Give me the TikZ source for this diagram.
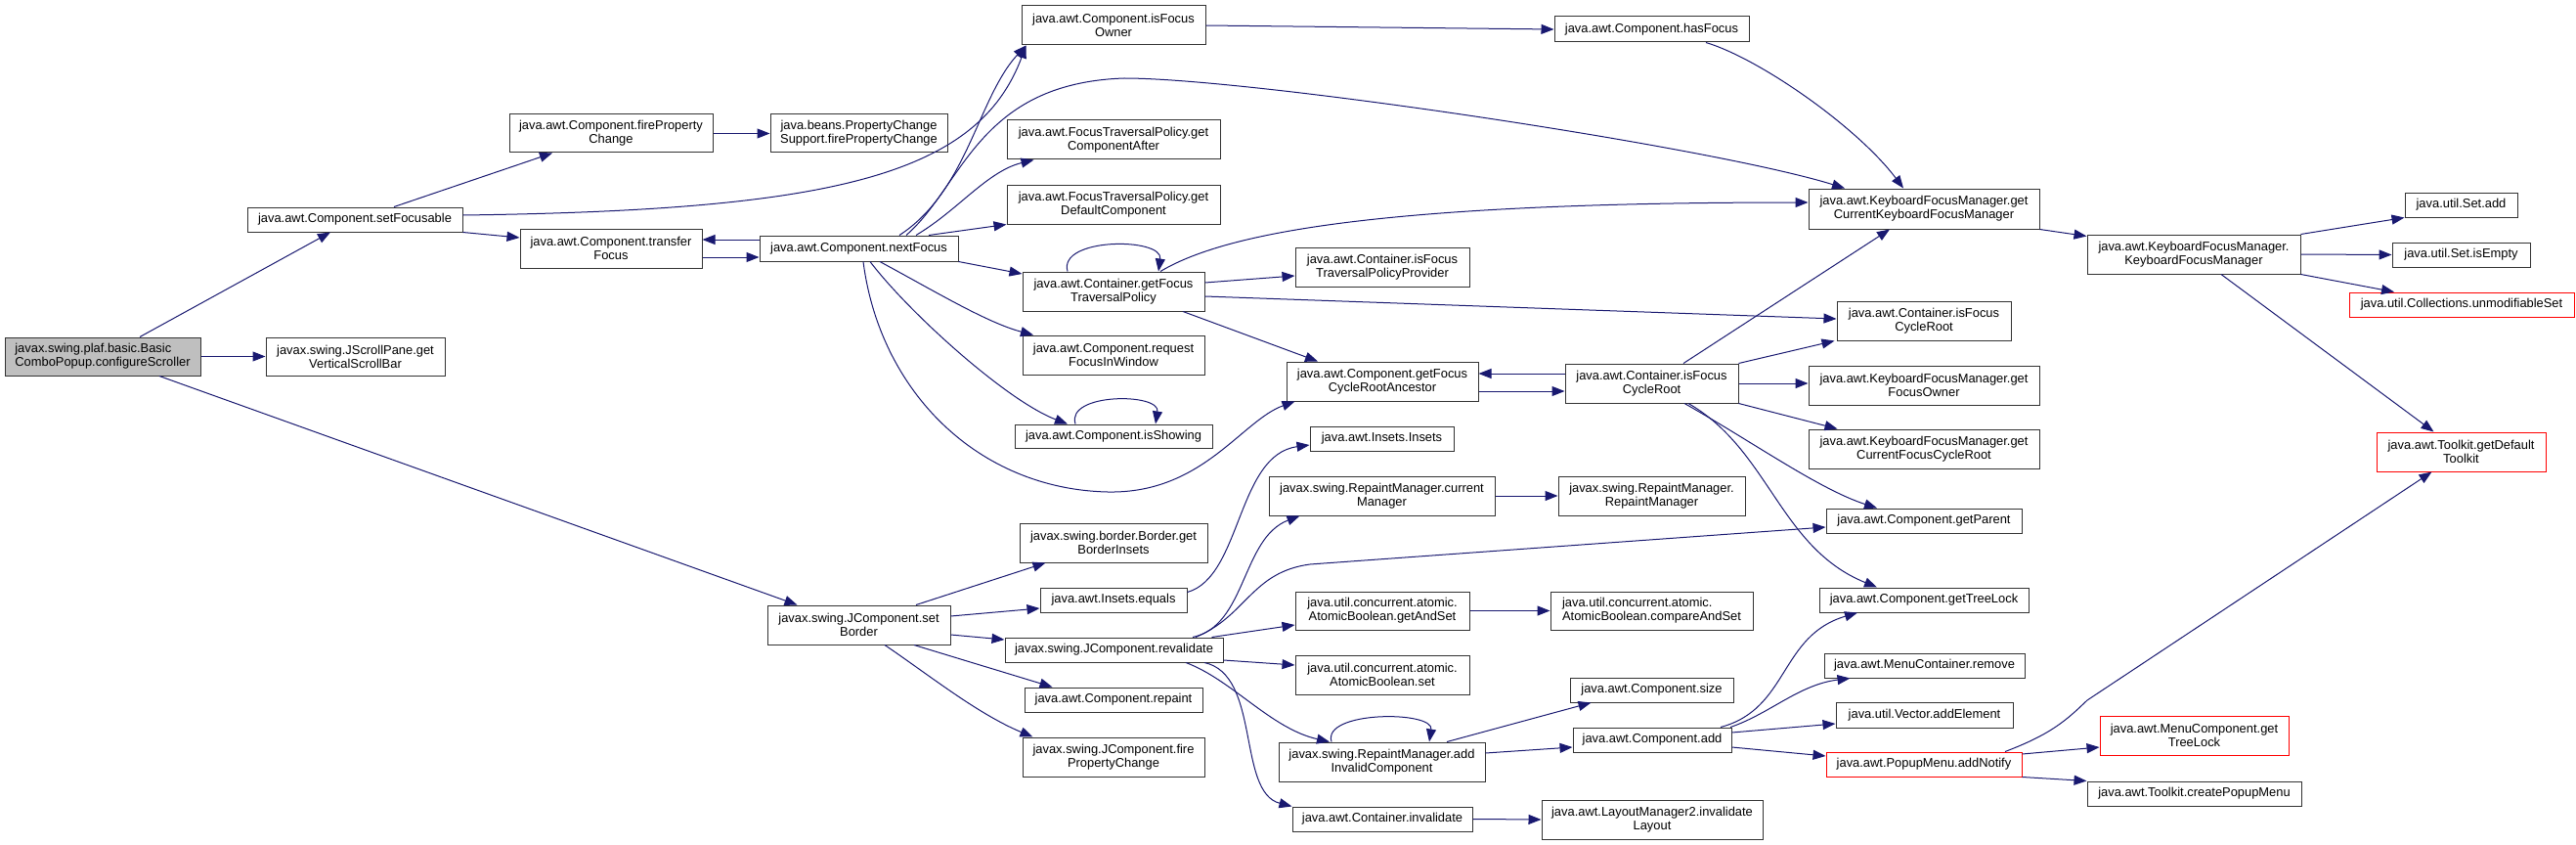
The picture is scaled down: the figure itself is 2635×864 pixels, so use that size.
\documentclass[tikz,border=0pt]{standalone}
\usepackage{fontspec}
\setmainfont{Liberation Sans}
\usepackage{xcolor}
\usetikzlibrary{arrows.meta}
\definecolor{edgeblue}{HTML}{191970}
\definecolor{rootgray}{HTML}{BFBFBF}
\tikzset{
  cbox/.style    = {rectangle, draw=black!80, fill=white, line width=1pt, align=center,
                    inner sep=0pt, font=\fontsize{12.9}{14}\selectfont},
  rootbox/.style = {cbox, fill=rootgray, align=left},
  redbox/.style  = {cbox, draw=red},
  arr/.style     = {-{Triangle[length=13pt,width=10pt]}, line width=1pt, edgeblue},
}

\begin{document}
\begin{tikzpicture}[x=1pt, y=1pt]
  \useasboundingbox (0,0) rectangle (2635,-864);

  % column 1 and 2
  \node[rootbox, minimum width=200pt, minimum height=39pt] (root) at (105,-364.5)
    {javax.swing.plaf.basic.Basic\\ComboPopup.configureScroller};
  \node[cbox, minimum width=220pt, minimum height=25pt] (setFocusable) at (363,-224.5)
    {java.awt.Component.setFocusable};
  \node[cbox, minimum width=183pt, minimum height=39pt] (vscroll) at (363.5,-364.5)
    {javax.swing.JScrollPane.get\\VerticalScrollBar};
  \node[cbox, minimum width=208pt, minimum height=39pt] (compFirePC) at (625,-136.5)
    {java.awt.Component.fireProperty\\Change};
  \node[cbox, minimum width=186pt, minimum height=40pt] (transferFocus) at (625,-254)
    {java.awt.Component.transfer\\Focus};

  % column 3
  \node[cbox, minimum width=181pt, minimum height=39pt] (pcsFirePC) at (878.5,-136.5)
    {java.beans.PropertyChange\\Support.firePropertyChange};
  \node[cbox, minimum width=203pt, minimum height=26pt] (nextFocus) at (878.5,-254)
    {java.awt.Component.nextFocus};
  \node[cbox, minimum width=187pt, minimum height=40pt] (setBorder) at (878.5,-639)
    {javax.swing.JComponent.set\\Border};

  % column 4
  \node[cbox, minimum width=188pt, minimum height=40pt] (isFocusOwner) at (1139,-26)
    {java.awt.Component.isFocus\\Owner};
  \node[cbox, minimum width=218pt, minimum height=40pt] (compAfter) at (1139,-143)
    {java.awt.FocusTraversalPolicy.get\\ComponentAfter};
  \node[cbox, minimum width=218pt, minimum height=40pt] (defComp) at (1139,-209)
    {java.awt.FocusTraversalPolicy.get\\DefaultComponent};
  \node[cbox, minimum width=186pt, minimum height=40pt] (getFTP) at (1139,-298)
    {java.awt.Container.getFocus\\TraversalPolicy};
  \node[cbox, minimum width=186pt, minimum height=40pt] (requestFocus) at (1139,-363)
    {java.awt.Component.request\\FocusInWindow};
  \node[cbox, minimum width=202pt, minimum height=24pt] (isShowing) at (1139,-446)
    {java.awt.Component.isShowing};
  \node[cbox, minimum width=192pt, minimum height=40pt] (borderInsets) at (1139,-555)
    {javax.swing.border.Border.get\\BorderInsets};
  \node[cbox, minimum width=150pt, minimum height=25pt] (insetsEquals) at (1139,-613.5)
    {java.awt.Insets.equals};
  \node[cbox, minimum width=223pt, minimum height=25pt] (revalidate) at (1139.5,-664.5)
    {javax.swing.JComponent.revalidate};
  \node[cbox, minimum width=182pt, minimum height=25pt] (repaint) at (1139,-715.5)
    {java.awt.Component.repaint};
  \node[cbox, minimum width=186pt, minimum height=40pt] (jcFirePC) at (1139,-774)
    {javax.swing.JComponent.fire\\PropertyChange};

  % column 5
  \node[cbox, minimum width=178pt, minimum height=40pt] (isFTPP) at (1414,-273)
    {java.awt.Container.isFocus\\TraversalPolicyProvider};
  \node[cbox, minimum width=196pt, minimum height=40pt] (getFCRA) at (1414,-390)
    {java.awt.Component.getFocus\\CycleRootAncestor};
  \node[cbox, minimum width=147pt, minimum height=25pt] (insetsInsets) at (1413.5,-448.5)
    {java.awt.Insets.Insets};
  \node[cbox, minimum width=231pt, minimum height=40pt] (currentManager) at (1413.5,-507)
    {javax.swing.RepaintManager.current\\Manager};
  \node[cbox, minimum width=178pt, minimum height=39pt] (getAndSet) at (1414,-624.5)
    {java.util.concurrent.atomic.\\AtomicBoolean.getAndSet};
  \node[cbox, minimum width=178pt, minimum height=40pt] (abSet) at (1414,-690)
    {java.util.concurrent.atomic.\\AtomicBoolean.set};
  \node[cbox, minimum width=211pt, minimum height=40pt] (addInvalid) at (1413.5,-779)
    {javax.swing.RepaintManager.add\\InvalidComponent};
  \node[cbox, minimum width=184pt, minimum height=25pt] (contInvalidate) at (1414,-837.5)
    {java.awt.Container.invalidate};

  % column 6
  \node[cbox, minimum width=199pt, minimum height=26pt] (hasFocus) at (1689.5,-30)
    {java.awt.Component.hasFocus};
  \node[cbox, minimum width=177pt, minimum height=40pt] (isFCR) at (1689.5,-392)
    {java.awt.Container.isFocus\\CycleRoot};
  \node[cbox, minimum width=191pt, minimum height=40pt] (rmRM) at (1689.5,-507)
    {javax.swing.RepaintManager.\\RepaintManager};
  \node[cbox, align=left, minimum width=207pt, minimum height=39pt] (compareAndSet) at (1689.5,-624.5)
    {java.util.concurrent.atomic.\\AtomicBoolean.compareAndSet};
  \node[cbox, minimum width=167pt, minimum height=25pt] (size) at (1689.5,-705.5)
    {java.awt.Component.size};
  \node[cbox, minimum width=162pt, minimum height=25pt] (compAdd) at (1690,-756.5)
    {java.awt.Component.add};
  \node[cbox, minimum width=226pt, minimum height=40pt] (invalidateLayout) at (1690,-838)
    {java.awt.LayoutManager2.invalidate\\Layout};

  % column 7
  \node[cbox, minimum width=236pt, minimum height=41pt] (getCKFM) at (1968,-213.5)
    {java.awt.KeyboardFocusManager.get\\CurrentKeyboardFocusManager};
  \node[cbox, minimum width=178pt, minimum height=40pt] (isFCRtop) at (1968,-328)
    {java.awt.Container.isFocus\\CycleRoot};
  \node[cbox, minimum width=236pt, minimum height=40pt] (getFocusOwner) at (1968,-394)
    {java.awt.KeyboardFocusManager.get\\FocusOwner};
  \node[cbox, minimum width=236pt, minimum height=40pt] (getCFCR) at (1968,-459)
    {java.awt.KeyboardFocusManager.get\\CurrentFocusCycleRoot};
  \node[cbox, minimum width=200pt, minimum height=25pt] (getParent) at (1968,-532.5)
    {java.awt.Component.getParent};
  \node[cbox, minimum width=214pt, minimum height=25pt] (getTreeLock) at (1968,-613.5)
    {java.awt.Component.getTreeLock};
  \node[cbox, minimum width=205pt, minimum height=25pt] (mcRemove) at (1968.5,-680.5)
    {java.awt.MenuContainer.remove};
  \node[cbox, minimum width=181pt, minimum height=26pt] (addElement) at (1968.5,-731)
    {java.util.Vector.addElement};
  \node[redbox, minimum width=200pt, minimum height=25pt] (addNotify) at (1968,-781.5)
    {java.awt.PopupMenu.addNotify};

  % column 8 and 9
  \node[cbox, minimum width=218pt, minimum height=40pt] (kfmKfm) at (2244,-260)
    {java.awt.KeyboardFocusManager.\\KeyboardFocusManager};
  \node[redbox, minimum width=193pt, minimum height=40pt] (mcGetTreeLock) at (2244.5,-752)
    {java.awt.MenuComponent.get\\TreeLock};
  \node[cbox, minimum width=219pt, minimum height=25pt] (createPopup) at (2244.5,-811.5)
    {java.awt.Toolkit.createPopupMenu};
  \node[cbox, minimum width=115pt, minimum height=25pt] (setAdd) at (2517.5,-209.5)
    {java.util.Set.add};
  \node[cbox, minimum width=141pt, minimum height=25pt] (setIsEmpty) at (2517.5,-260.5)
    {java.util.Set.isEmpty};
  \node[redbox, minimum width=230pt, minimum height=25pt] (unmodSet) at (2518,-311.5)
    {java.util.Collections.unmodifiableSet};
  \node[redbox, minimum width=173pt, minimum height=40pt] (defToolkit) at (2517.5,-462)
    {java.awt.Toolkit.getDefault\\Toolkit};

  % calls from the root
  \draw[arr] ([xshift=38pt]root.north) -- ([xshift=-25pt]setFocusable.south);
  \draw[arr] (root.east) -- (vscroll.west);
  \draw[arr] ([xshift=58pt]root.south) -- ([xshift=-63pt]setBorder.north);

  % setFocusable, transferFocus, nextFocus
  \draw[arr] ([xshift=40pt]setFocusable.north) -- ([xshift=-60pt]compFirePC.south);
  \draw[arr] ([yshift=4.5pt]setFocusable.east) .. controls (850,-215) and (1000,-180) .. ([xshift=5pt]isFocusOwner.south west);
  \draw[arr] (setFocusable.south east) -- ([yshift=11pt]transferFocus.west);
  \draw[arr] (compFirePC.east) -- (pcsFirePC.west);
  \draw[arr] ([yshift=-9pt]transferFocus.east) -- ([yshift=-9pt]nextFocus.west);
  \draw[arr] ([yshift=9pt]nextFocus.west) -- ([yshift=9pt]transferFocus.east);
  \draw[arr] ([xshift=41.5pt]nextFocus.north) .. controls (990,-195) and (1000,-100) .. ([xshift=5pt]isFocusOwner.south west);
  \draw[arr] ([xshift=48.5pt]nextFocus.north) .. controls (985,-190) and (1000,-85) .. (1150,-80)
    .. controls (1280,-80) and (1750,-150) .. ([xshift=-81pt]getCKFM.north);
  \draw[arr] ([xshift=58.5pt]nextFocus.north) .. controls (980,-215) and (1010,-175) .. ([xshift=28pt]compAfter.south west);
  \draw[arr] ([xshift=71.5pt]nextFocus.north) -- (defComp.south west);
  \draw[arr] (nextFocus.south east) -- ([yshift=18pt]getFTP.west);
  \draw[arr] ([xshift=21.5pt]nextFocus.south) .. controls (960,-300) and (1010,-330) .. ([xshift=-82pt]requestFocus.north);
  \draw[arr] ([xshift=11.5pt]nextFocus.south) .. controls (930,-320) and (1030,-410) .. ([xshift=-47pt]isShowing.north);
  \draw[arr] ([xshift=4.5pt]nextFocus.south) .. controls (900,-400) and (1000,-500) .. (1133,-503)
    .. controls (1230,-505) and (1270,-430) .. ([xshift=9pt]getFCRA.south west);
  \draw[arr] ([xshift=-39pt]isShowing.north) .. controls +(-10,32) and +(5,32) .. ([xshift=43pt]isShowing.north);

  % focus owner and traversal policy
  \draw[arr] (isFocusOwner.east) -- (hasFocus.west);
  \draw[arr] ([xshift=55.5pt]hasFocus.south) .. controls (1800,-60) and (1900,-130) .. ([xshift=-21pt]getCKFM.north);
  \draw[arr] ([xshift=48pt]getFTP.north) .. controls (1250,-240) and (1400,-207) .. ([yshift=6.5pt]getCKFM.west);
  \draw[arr] ([xshift=-47pt]getFTP.north) .. controls +(-10,35) and +(5,35) .. ([xshift=46pt]getFTP.north);
  \draw[arr] ([yshift=9pt]getFTP.east) -- ([yshift=-9pt]isFTPP.west);
  \draw[arr] ([yshift=-5pt]getFTP.east) -- ([yshift=2pt]isFCRtop.west);
  \draw[arr] ([xshift=71pt]getFTP.south) -- ([xshift=-66pt]getFCRA.north);
  \draw[arr] ([yshift=-10pt]getFCRA.east) -- ([yshift=-8pt]isFCR.west);
  \draw[arr] ([yshift=10pt]isFCR.west) -- ([yshift=8pt]getFCRA.east);
  \draw[arr] ([xshift=32.5pt]isFCR.north) -- ([xshift=-35pt]getCKFM.south);
  \draw[arr] (isFCR.north east) -- ([xshift=-2pt]isFCRtop.south west);
  \draw[arr] (isFCR.east) -- (isFCR.east -| getFocusOwner.west);
  \draw[arr] (isFCR.south east) -- ([xshift=30pt]getCFCR.north west);
  \draw[arr] ([xshift=33.5pt]isFCR.south) .. controls (1790,-450) and (1860,-500) .. ([xshift=-48pt]getParent.north);
  \draw[arr] ([xshift=37.5pt]isFCR.south) .. controls (1810,-460) and (1820,-560) .. ([xshift=-48pt]getTreeLock.north);

  % keyboard focus manager
  \draw[arr] (getCKFM.south east) -- ([yshift=-2pt]kfmKfm.north west);
  \draw[arr] (kfmKfm.north east) -- (setAdd.south west);
  \draw[arr] (kfmKfm.east) -- (setIsEmpty.west);
  \draw[arr] (kfmKfm.south east) -- ([xshift=-69pt]unmodSet.north);
  \draw[arr] ([xshift=28pt]kfmKfm.south) -- ([xshift=-28pt]defToolkit.north);

  % setBorder and revalidate
  \draw[arr] ([xshift=58.5pt]setBorder.north) -- ([xshift=27pt]borderInsets.south west);
  \draw[arr] ([yshift=9pt]setBorder.east) -- ([yshift=-8.5pt]insetsEquals.west);
  \draw[arr] ([yshift=-10pt]setBorder.east) -- ([yshift=10.5pt]revalidate.west);
  \draw[arr] ([xshift=56.5pt]setBorder.south) -- ([xshift=29pt]repaint.north west);
  \draw[arr] ([xshift=26.5pt]setBorder.south) .. controls (950,-690) and (1000,-730) .. ([xshift=11pt]jcFirePC.north west);
  \draw[arr] ([yshift=8pt]insetsEquals.east) .. controls (1270,-590) and (1265,-465) .. ([yshift=-6.5pt]insetsInsets.west);
  \draw[arr] ([xshift=80.5pt]revalidate.north) .. controls (1275,-640) and (1270,-550) .. ([xshift=32pt]currentManager.south west);
  \draw[arr] ([xshift=83.5pt]revalidate.north) .. controls (1275,-630) and (1280,-585) .. (1340,-577)
    -- ([yshift=-6.5pt]getParent.west);
  \draw[arr] ([xshift=-12pt]revalidate.north east) -- ([yshift=-14.5pt]getAndSet.west);
  \draw[arr] ([yshift=-10.5pt]revalidate.east) -- ([yshift=10pt]abSet.west);
  \draw[arr] ([xshift=73.5pt]revalidate.south) .. controls (1260,-695) and (1300,-745) .. ([xshift=-53.5pt]addInvalid.north);
  \draw[arr] ([xshift=92.5pt]revalidate.south) .. controls (1290,-690) and (1265,-810) .. (contInvalidate.north west);
  \draw[arr] (currentManager.east) -- (rmRM.west);
  \draw[arr] (getAndSet.east) -- (compareAndSet.west);
  \draw[arr] ([xshift=-51.5pt]addInvalid.north) .. controls +(-10,32) and +(5,32) .. ([xshift=48.5pt]addInvalid.north);
  \draw[arr] ([xshift=66.5pt]addInvalid.north) -- ([xshift=22pt]size.south west);
  \draw[arr] ([yshift=9pt]addInvalid.east) -- ([yshift=-7.5pt]compAdd.west);
  \draw[arr] (contInvalidate.east) -- (invalidateLayout.west);

  % Component.add and PopupMenu.addNotify
  \draw[arr] ([xshift=70pt]compAdd.north) .. controls (1830,-725) and (1820,-650) .. ([xshift=-68pt]getTreeLock.south);
  \draw[arr] ([xshift=80pt]compAdd.north) .. controls (1810,-730) and (1840,-700) .. ([xshift=27pt]mcRemove.south west);
  \draw[arr] ([yshift=7.5pt]compAdd.east) -- ([yshift=-9pt]addElement.west);
  \draw[arr] ([yshift=-7.5pt]compAdd.east) -- ([yshift=8.5pt]addNotify.west);
  \draw[arr] ([xshift=83pt]addNotify.north) .. controls (2100,-750) and (2115,-735) .. (2135,-716)
    -- ([xshift=-30pt]defToolkit.south);
  \draw[arr] ([yshift=10.5pt]addNotify.east) -- ([yshift=-12pt]mcGetTreeLock.west);
  \draw[arr] (addNotify.south east) -- (createPopup.north west);
\end{tikzpicture}
\end{document}
